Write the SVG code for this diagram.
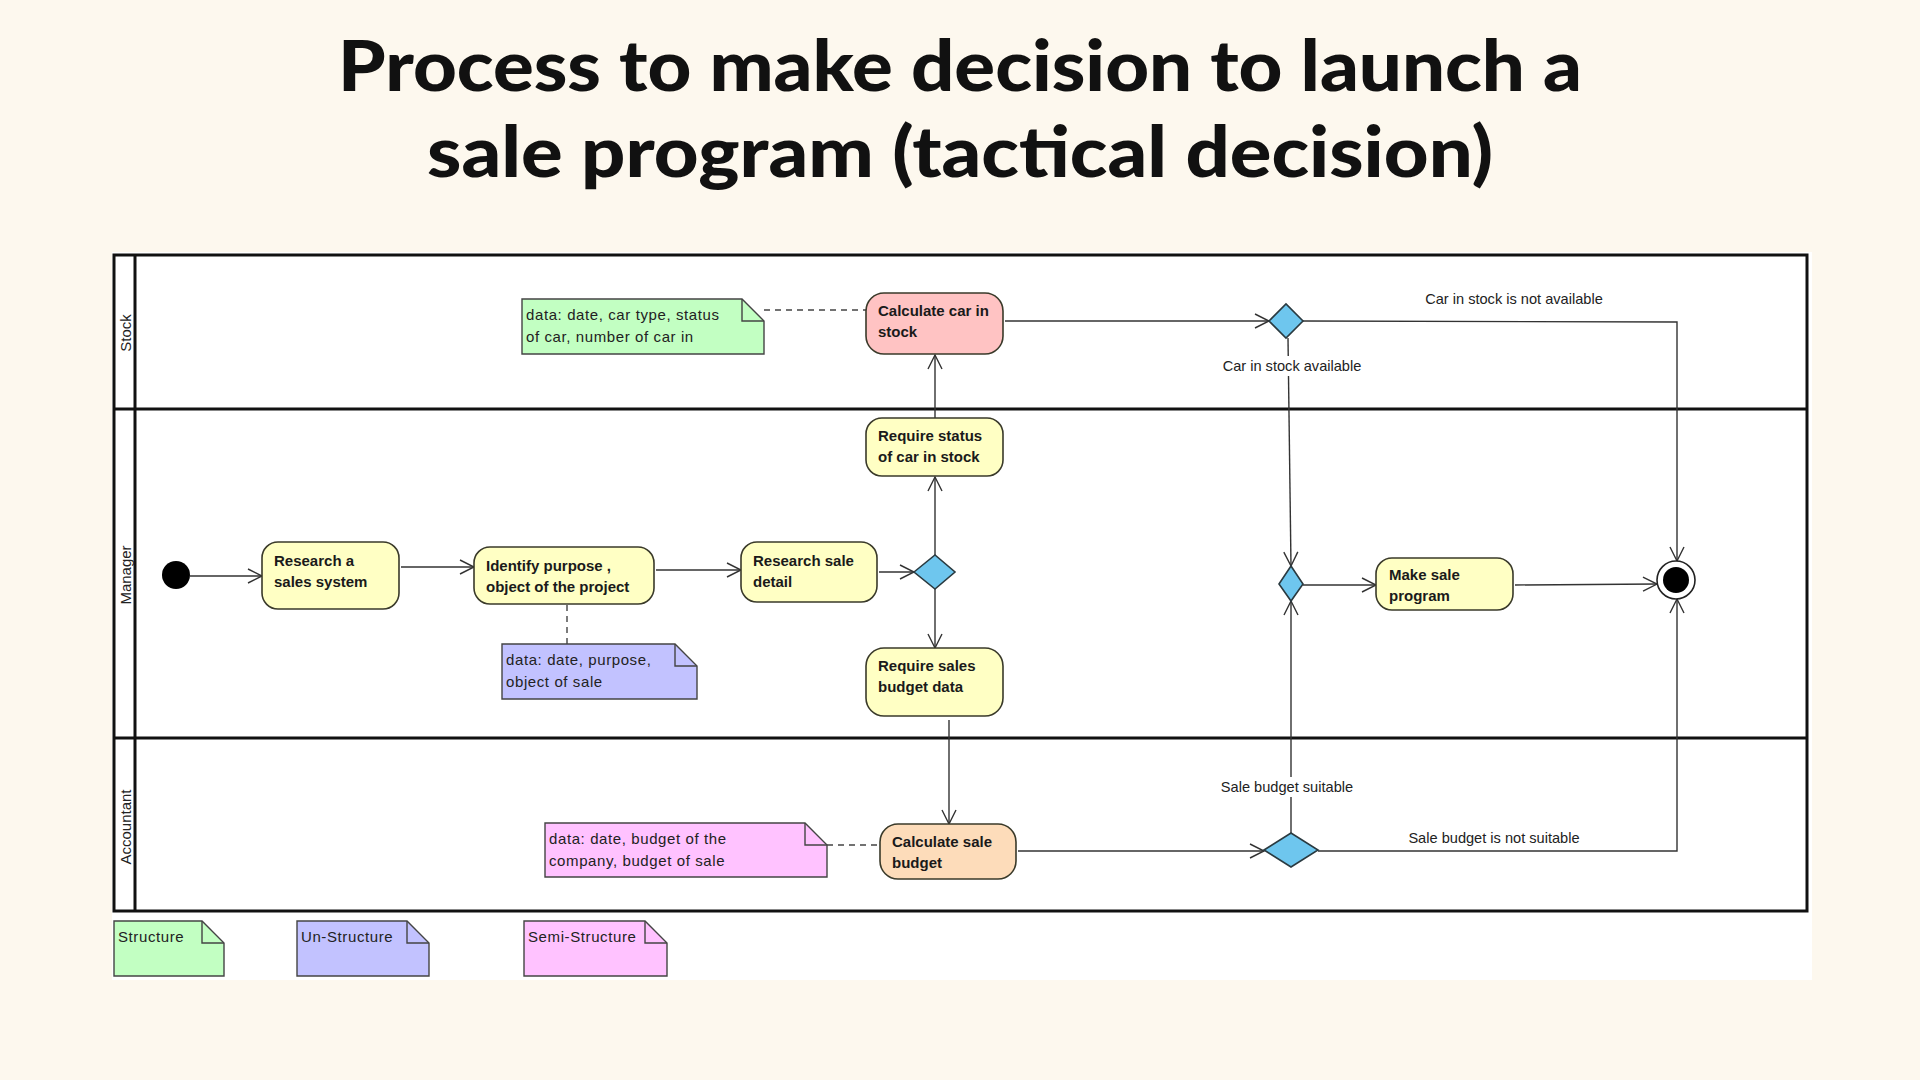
<svg xmlns="http://www.w3.org/2000/svg" width="1920" height="1080" viewBox="0 0 1920 1080">
<defs>
<style>
.title{font-family:Lato,"Open Sans","Liberation Sans",sans-serif;font-weight:900;font-size:70px;fill:#111;text-anchor:middle}
.lane{font-family:"Liberation Sans",Arial,sans-serif;font-size:15px;fill:#222;text-anchor:middle;dominant-baseline:central}
.node{stroke:#3a3a2a;stroke-width:1.6}
.act{fill:#FFFFC4}
.pink{fill:#FFC3C3}
.orange{fill:#FDDCBA}
.nt{font-family:"Liberation Sans",Arial,sans-serif;font-weight:bold;font-size:15px;fill:#1a1a1a}
.dec{fill:#6EC6EE;stroke:#2a3a40;stroke-width:1.6}
.note{stroke:#444;stroke-width:1.4}
.ng{fill:#C2FFC2}
.nb{fill:#C2C2FF}
.np{fill:#FFC2FF}
.fold{fill:none;stroke:#444;stroke-width:1.4}
.ntx{font-family:"Liberation Sans",Arial,sans-serif;font-size:15px;letter-spacing:0.6px;fill:#222}
.edge{fill:none;stroke:#333;stroke-width:1.4}
.dash{fill:none;stroke:#444;stroke-width:1.4;stroke-dasharray:6 5}
.el{font-family:"Liberation Sans",Arial,sans-serif;font-size:14.6px;fill:#222;text-anchor:middle}
.frame{fill:none;stroke:#111;stroke-width:3}
</style>
<marker id="arr" markerUnits="userSpaceOnUse" markerWidth="18" markerHeight="18" refX="15" refY="8" orient="auto">
<path d="M1,1 L15,8 L1,15" fill="none" stroke="#333" stroke-width="1.4"/>
</marker>
</defs>
<rect x="0" y="0" width="1920" height="1080" fill="#FDF8EE"/>
<g id="title">
<text class="title" x="960" y="91" textLength="1244" lengthAdjust="spacingAndGlyphs">Process to make decision to launch a</text>
<text class="title" x="960" y="177" textLength="1066" lengthAdjust="spacingAndGlyphs">sale program (tactical decision)</text>
</g>
<rect x="112" y="252" width="1700" height="728" fill="#FFFFFF"/>
<g id="swimlanes">
<rect class="frame" x="114" y="255" width="1693" height="656"/>
<line class="frame" x1="135" y1="255" x2="135" y2="911"/>
<line class="frame" x1="114" y1="409" x2="1807" y2="409"/>
<line class="frame" x1="114" y1="738" x2="1807" y2="738"/>
<text class="lane" transform="translate(125,333) rotate(-90)">Stock</text>
<text class="lane" transform="translate(125,575) rotate(-90)">Manager</text>
<text class="lane" transform="translate(125,827) rotate(-90)">Accountant</text>
</g>
<g id="connectors">
<line class="dash" x1="764" y1="310" x2="866" y2="310"/>
<line class="dash" x1="567" y1="605" x2="567" y2="644"/>
<line class="dash" x1="827" y1="845" x2="880" y2="845"/>
<line class="edge" x1="190" y1="576" x2="262" y2="576" marker-end="url(#arr)"/>
<line class="edge" x1="401" y1="567" x2="474" y2="567" marker-end="url(#arr)"/>
<line class="edge" x1="656" y1="570" x2="741" y2="570" marker-end="url(#arr)"/>
<line class="edge" x1="879" y1="572" x2="914" y2="572" marker-end="url(#arr)"/>
<line class="edge" x1="935" y1="555" x2="935" y2="477" marker-end="url(#arr)"/>
<line class="edge" x1="935" y1="418" x2="935" y2="355" marker-end="url(#arr)"/>
<line class="edge" x1="935" y1="589" x2="935" y2="648" marker-end="url(#arr)"/>
<line class="edge" x1="949" y1="720" x2="949" y2="824" marker-end="url(#arr)"/>
<line class="edge" x1="1005" y1="321" x2="1269" y2="321" marker-end="url(#arr)"/>
<polyline class="edge" points="1303,321 1677,322 1677,561" marker-end="url(#arr)"/>
<line class="edge" x1="1288" y1="338" x2="1291" y2="566" marker-end="url(#arr)"/>
<line class="edge" x1="1303" y1="585" x2="1376" y2="585" marker-end="url(#arr)"/>
<line class="edge" x1="1515" y1="585" x2="1657" y2="584" marker-end="url(#arr)"/>
<line class="edge" x1="1018" y1="851" x2="1264" y2="851" marker-end="url(#arr)"/>
<line class="edge" x1="1291" y1="833" x2="1291" y2="601" marker-end="url(#arr)"/>
<polyline class="edge" points="1318,851 1677,851 1677,599" marker-end="url(#arr)"/>
<rect x="1216" y="356" width="152" height="20" fill="#FFFFFF"/>
<text class="el" x="1292" y="371">Car in stock available</text>
<text class="el" x="1514" y="304">Car in stock is not available</text>
<rect x="1214" y="777" width="146" height="20" fill="#FFFFFF"/>
<text class="el" x="1287" y="792">Sale budget suitable</text>
<text class="el" x="1494" y="843">Sale budget is not suitable</text>
</g>
<g id="initial"><circle cx="176" cy="575" r="14" fill="#000"/></g>
<g id="research-sales-system">
<rect class="node act" x="262" y="542" width="137" height="67" rx="16"/>
<text class="nt" x="274" y="566">Research a</text>
<text class="nt" x="274" y="587">sales system</text>
</g>
<g id="identify-purpose">
<rect class="node act" x="474" y="547" width="180" height="57" rx="16"/>
<text class="nt" x="486" y="571">Identify purpose ,</text>
<text class="nt" x="486" y="592">object of the project</text>
</g>
<g id="research-sale-detail">
<rect class="node act" x="741" y="542" width="136" height="60" rx="16"/>
<text class="nt" x="753" y="566">Research sale</text>
<text class="nt" x="753" y="587">detail</text>
</g>
<g id="decision-split"><polygon class="dec" points="914,572 935,555 955,572 935,589"/></g>
<g id="require-status">
<rect class="node act" x="866" y="418" width="137" height="58" rx="16"/>
<text class="nt" x="878" y="441">Require status</text>
<text class="nt" x="878" y="462">of car in stock</text>
</g>
<g id="calculate-car">
<rect class="node pink" x="866" y="293" width="137" height="61" rx="18"/>
<text class="nt" x="878" y="316">Calculate car in</text>
<text class="nt" x="878" y="337">stock</text>
</g>
<g id="require-budget">
<rect class="node act" x="866" y="648" width="137" height="68" rx="18"/>
<text class="nt" x="878" y="671">Require sales</text>
<text class="nt" x="878" y="692">budget data</text>
</g>
<g id="calculate-budget">
<rect class="node orange" x="880" y="824" width="136" height="55" rx="18"/>
<text class="nt" x="892" y="847">Calculate sale</text>
<text class="nt" x="892" y="868">budget</text>
</g>
<g id="stock-decision"><polygon class="dec" points="1269,321 1286,304 1303,321 1286,338"/></g>
<g id="merge"><polygon class="dec" points="1279,584 1291,566 1303,584 1291,601"/></g>
<g id="budget-decision"><polygon class="dec" points="1264,850 1291,833 1318,850 1291,867"/></g>
<g id="make-sale-program">
<rect class="node act" x="1376" y="558" width="137" height="52" rx="16"/>
<text class="nt" x="1389" y="580">Make sale</text>
<text class="nt" x="1389" y="601">program</text>
</g>
<g id="final">
<circle cx="1676" cy="580" r="19" fill="#FFFFFF" stroke="#222" stroke-width="1.6"/>
<circle cx="1676" cy="580" r="13" fill="#000"/>
</g>
<g id="note-stock">
<path class="note ng" d="M522,299 H742 L764,321 V354 H522 Z"/>
<path class="fold" d="M742,299 V321 H764"/>
<text class="ntx" x="526" y="320">data: date, car type, status</text>
<text class="ntx" x="526" y="342">of car, number of car in</text>
</g>
<g id="note-purpose">
<path class="note nb" d="M502,644 H675 L697,666 V699 H502 Z"/>
<path class="fold" d="M675,644 V666 H697"/>
<text class="ntx" x="506" y="665">data: date, purpose,</text>
<text class="ntx" x="506" y="687">object of sale</text>
</g>
<g id="note-budget">
<path class="note np" d="M545,823 H805 L827,845 V877 H545 Z"/>
<path class="fold" d="M805,823 V845 H827"/>
<text class="ntx" x="549" y="844">data: date, budget of the</text>
<text class="ntx" x="549" y="866">company, budget of sale</text>
</g>
<g id="legend-structure">
<path class="note ng" d="M114,921 H202 L224,943 V976 H114 Z"/>
<path class="fold" d="M202,921 V943 H224"/>
<text class="ntx" x="118" y="942">Structure</text>
</g>
<g id="legend-unstructure">
<path class="note nb" d="M297,921 H407 L429,943 V976 H297 Z"/>
<path class="fold" d="M407,921 V943 H429"/>
<text class="ntx" x="301" y="942">Un-Structure</text>
</g>
<g id="legend-semistructure">
<path class="note np" d="M524,921 H645 L667,943 V976 H524 Z"/>
<path class="fold" d="M645,921 V943 H667"/>
<text class="ntx" x="528" y="942">Semi-Structure</text>
</g>
</svg>
